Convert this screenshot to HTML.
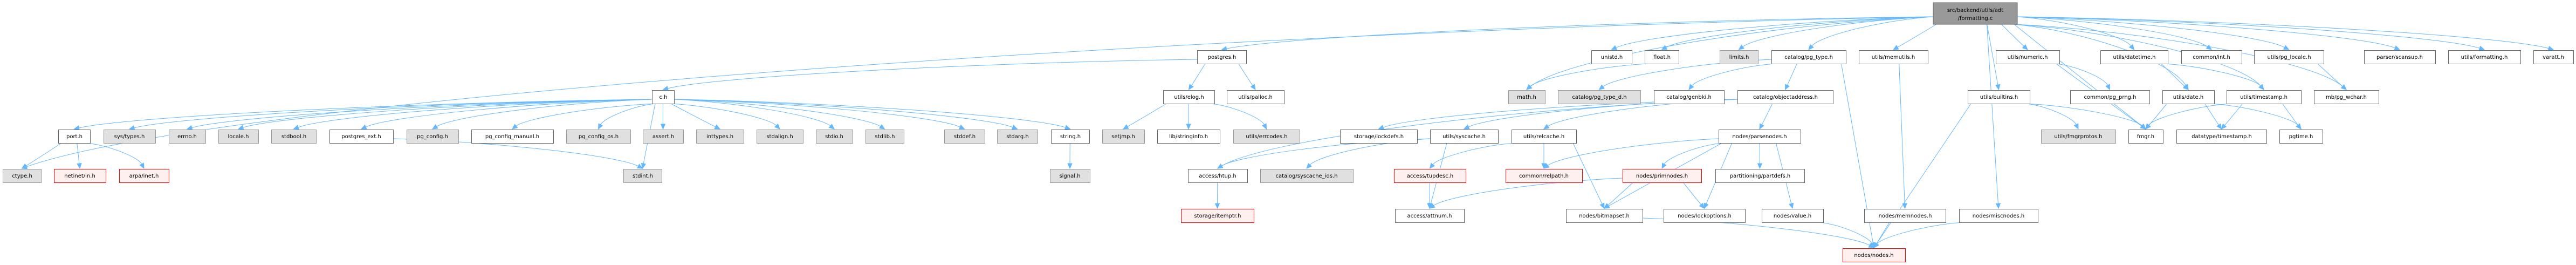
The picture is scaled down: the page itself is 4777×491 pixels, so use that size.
<!DOCTYPE html>
<html><head><meta charset="utf-8"><style>
html,body{margin:0;padding:0;background:#fff;}
svg{display:block;}
text{font-family:"DejaVu Sans","Liberation Sans",sans-serif;font-size:10px;fill:#000;}
</style></head><body>
<svg id="g" width="4777" height="491" viewBox="0 0 4777 491" xmlns="http://www.w3.org/2000/svg">
<g id="edges" fill="none" stroke="#63b8ff" stroke-width="1"></g>
<g id="heads" fill="#63b8ff" stroke="#63b8ff"></g>
<g id="nodes">
<rect x="3585" y="5" width="156" height="40" fill="#999" stroke="#666"/>
<text x="3663" y="22" text-anchor="middle">src/backend/utils/adt</text>
<text x="3663" y="37" text-anchor="middle">/formatting.c</text>
</g>
</svg>
<script>
(function(){
var R=[5,93,167,240,313,387,460];
var N={
 port:["port.h",108,167,3,"w"],systypes:["sys/types.h",192,288,3,"g"],errno:["errno.h",313,381,3,"g"],
 locale:["locale.h",405,479,3,"g"],stdbool:["stdbool.h",503,586,3,"g"],pgext:["postgres_ext.h",611,729,3,"w"],
 pgconfig:["pg_config.h",754,850,3,"g"],ctype:["ctype.h",5,76,4,"g"],netinet:["netinet/in.h",100,196,4,"r"],
 arpa:["arpa/inet.h",221,313,4,"r"],ch:["c.h",1209,1250,2,"w"],pgcm:["pg_config_manual.h",874,1026,3,"w"],
 pgcos:["pg_config_os.h",1050,1169,3,"g"],assert:["assert.h",1192,1267,3,"g"],inttypes:["inttypes.h",1291,1379,3,"g"],
 stdalign:["stdalign.h",1403,1489,3,"g"],stdio:["stdio.h",1513,1581,3,"g"],stdint:["stdint.h",1156,1227,4,"g"],
 stdlib:["stdlib.h",1605,1676,3,"g"],stddef:["stddef.h",1751,1826,3,"g"],stdarg:["stdarg.h",1849,1924,3,"g"],
 string:["string.h",1949,2020,3,"w"],signal:["signal.h",1947,2021,4,"g"],postgres:["postgres.h",2220,2311,1,"w"],
 elog:["utils/elog.h",2157,2252,2,"w"],palloc:["utils/palloc.h",2275,2381,2,"w"],setjmp:["setjmp.h",2044,2122,3,"g"],
 stringinfo:["lib/stringinfo.h",2146,2262,3,"w"],errcodes:["utils/errcodes.h",2287,2410,3,"g"],
 htup:["access/htup.h",2203,2313,4,"w"],scids:["catalog/syscache_ids.h",2337,2509,4,"g"],itemptr:["storage/itemptr.h",2190,2325,5,"r"],
 unistd:["unistd.h",2951,3026,1,"w"],float:["float.h",3050,3113,1,"w"],limits:["limits.h",3189,3260,1,"g"],
 math:["math.h",2797,2865,2,"g"],pgtyped:["catalog/pg_type_d.h",2889,3042,2,"g"],genbki:["catalog/genbki.h",3067,3197,2,"w"],
 lockdefs:["storage/lockdefs.h",2485,2628,3,"w"],syscache:["utils/syscache.h",2652,2778,3,"w"],relcache:["utils/relcache.h",2803,2923,3,"w"],
 parsenodes:["nodes/parsenodes.h",3187,3339,3,"w"],tupdesc:["access/tupdesc.h",2585,2718,4,"r"],relpath:["common/relpath.h",2792,2934,4,"r"],
 primnodes:["nodes/primnodes.h",3009,3155,4,"r"],partdefs:["partitioning/partdefs.h",3181,3346,4,"w"],attnum:["access/attnum.h",2587,2715,5,"w"],
 bitmapset:["nodes/bitmapset.h",2904,3046,5,"w"],lockopt:["nodes/lockoptions.h",3085,3236,5,"w"],
 pgtype:["catalog/pg_type.h",3285,3423,1,"w"],memutils:["utils/memutils.h",3447,3575,1,"w"],numeric:["utils/numeric.h",3701,3819,1,"w"],
 datetime:["utils/datetime.h",3895,4020,1,"w"],objaddr:["catalog/objectaddress.h",3222,3399,2,"w"],builtins:["utils/builtins.h",3649,3764,2,"w"],
 prng:["common/pg_prng.h",3839,3986,2,"w"],fmgrprotos:["utils/fmgrprotos.h",3785,3923,3,"g"],fmgr:["fmgr.h",3947,4011,3,"w"],
 value:["nodes/value.h",3267,3381,5,"w"],memnodes:["nodes/memnodes.h",3457,3608,5,"w"],miscnodes:["nodes/miscnodes.h",3633,3779,5,"w"],
 nodes:["nodes/nodes.h",3417,3533,6,"r"],int:["common/int.h",4045,4157,1,"w"],pglocale:["utils/pg_locale.h",4180,4309,1,"w"],
 scansup:["parser/scansup.h",4384,4516,1,"w"],formatting:["utils/formatting.h",4540,4674,1,"w"],varatt:["varatt.h",4698,4772,1,"w"],
 date:["utils/date.h",4010,4106,2,"w"],timestamp:["utils/timestamp.h",4129,4267,2,"w"],wchar:["mb/pg_wchar.h",4291,4411,2,"w"],
 dtts:["datatype/timestamp.h",4036,4203,3,"w"],pgtime:["pgtime.h",4227,4307,3,"w"]
};
N.root=["",3585,3741,0,"x"];
var ns="http://www.w3.org/2000/svg";
var E=[["root","postgres"],["root","ctype"],["root","unistd"],["root","float"],["root","limits"],["root","math"],["root","pgtype"],
["root","memutils"],["root","miscnodes"],["root","builtins"],["root","numeric"],["root","datetime"],["root","date"],["root","timestamp"],
["root","int"],["root","pglocale"],["root","wchar"],["root","scansup"],["root","formatting"],["root","varatt"],["root","fmgr"],
["postgres","ch"],["postgres","elog"],["postgres","palloc"],
["ch","port"],["ch","systypes"],["ch","errno"],["ch","locale"],["ch","stdbool"],["ch","pgext"],["ch","pgconfig"],["ch","pgcm"],["ch","pgcos"],
["ch","assert"],["ch","inttypes"],["ch","stdalign"],["ch","stdio"],["ch","stdlib"],["ch","stddef"],["ch","stdarg"],["ch","string"],["ch","stdint"],
["port","ctype"],["port","netinet"],["port","arpa"],["pgext","stdint"],["string","signal"],
["elog","setjmp"],["elog","stringinfo"],["elog","errcodes"],["float","math"],
["pgtype","pgtyped"],["pgtype","genbki"],["pgtype","objaddr"],["pgtype","nodes"],
["objaddr","htup"],["objaddr","lockdefs"],["objaddr","syscache"],["objaddr","relcache"],["objaddr","parsenodes"],
["syscache","htup"],["syscache","scids"],["syscache","attnum"],["htup","itemptr"],
["relcache","tupdesc"],["relcache","relpath"],["relcache","bitmapset"],["tupdesc","attnum"],
["parsenodes","relpath"],["parsenodes","bitmapset"],["parsenodes","primnodes"],["parsenodes","partdefs"],["parsenodes","lockopt"],["parsenodes","value"],
["primnodes","attnum"],["primnodes","bitmapset"],["primnodes","lockopt"],
["bitmapset","nodes"],["value","nodes"],["memnodes","nodes"],["miscnodes","nodes"],["builtins","nodes"],
["builtins","fmgrprotos"],["builtins","fmgr"],["memutils","memnodes"],["numeric","prng"],["numeric","fmgr"],
["datetime","date"],["datetime","timestamp"],["date","fmgr"],["date","dtts"],["date","pgtime"],
["timestamp","fmgr"],["timestamp","dtts"],["timestamp","pgtime"],["pglocale","wchar"]];
var eg=document.getElementById("edges"),hg=document.getElementById("heads"),ng=document.getElementById("nodes");
function ntop(n){return R[n[3]];}
function nbot(n){return R[n[3]]+(n[3]==0?40:25);}
E.forEach(function(e){
 var s=N[e[0]],t=N[e[1]];
 var tx=(t[1]+t[2])/2,ty=ntop(t);
 var scx=(s[1]+s[2])/2;
 var sx=Math.max(s[1]+6,Math.min(s[2]-6,tx*0.5+scx*0.5)),sy=nbot(s);
 var dy0=ty-sy;
 if(Math.abs(tx-scx)>dy0*6){sx=(tx<scx)?s[1]:s[2];sy=nbot(s)-(s[3]==0?14:8);}
 var dy=ty-sy;
 var c1x=sx+(tx-sx)*0.4,c1y=sy+dy*0.1,c2x=tx+(sx-tx)*0.1,c2y=ty-dy*0.45;
 if(Math.abs(tx-sx)<dy*2){c1x=sx+(tx-sx)*0.33;c2x=sx+(tx-sx)*0.67;c1y=sy+dy*0.33;c2y=sy+dy*0.67;}
 var ex=tx,ey=ty-1;
 var ang=Math.atan2(ey-c2y,ex-c2x);
 var L=9,bx=ex-L*Math.cos(ang),by=ey-L*Math.sin(ang);
 var p=document.createElementNS(ns,"path");
 p.setAttribute("d","M"+sx+","+sy+" C"+c1x+","+c1y+" "+c2x+","+c2y+" "+bx+","+by);
 eg.appendChild(p);
 var w=4,px=-Math.sin(ang)*w,py=Math.cos(ang)*w;
 var h=document.createElementNS(ns,"polygon");
 h.setAttribute("points",ex+","+ey+" "+(bx+px)+","+(by+py)+" "+(bx-px)+","+(by-py));
 hg.appendChild(h);
});
var st={w:["#fff","#666"],g:["#e0e0e0","#999"],r:["#fff0f0","#f00"]};
for(var k in N){var n=N[k];if(n[4]=="x")continue;
 var r=document.createElementNS(ns,"rect");
 r.setAttribute("x",n[1]+0.5);r.setAttribute("y",R[n[3]]+0.5);r.setAttribute("width",n[2]-n[1]);r.setAttribute("height",25);
 r.setAttribute("fill",st[n[4]][0]);r.setAttribute("stroke",st[n[4]][1]);ng.appendChild(r);
}
})();
</script>
<svg width="4777" height="491" style="position:absolute;left:0;top:0" xmlns="http://www.w3.org/2000/svg">
<g text-anchor="middle" font-family="DejaVu Sans, Liberation Sans, sans-serif" font-size="10">
<text x="138" y="256">port.h</text><text x="240" y="256">sys/types.h</text><text x="347" y="256">errno.h</text>
<text x="442" y="256">locale.h</text><text x="545" y="256">stdbool.h</text><text x="670" y="256">postgres_ext.h</text>
<text x="802" y="256">pg_config.h</text><text x="41" y="329">ctype.h</text><text x="148" y="329">netinet/in.h</text>
<text x="267" y="329">arpa/inet.h</text><text x="1230" y="183">c.h</text><text x="950" y="256">pg_config_manual.h</text>
<text x="1110" y="256">pg_config_os.h</text><text x="1230" y="256">assert.h</text><text x="1335" y="256">inttypes.h</text>
<text x="1446" y="256">stdalign.h</text><text x="1547" y="256">stdio.h</text><text x="1192" y="329">stdint.h</text>
<text x="1641" y="256">stdlib.h</text><text x="1789" y="256">stddef.h</text><text x="1887" y="256">stdarg.h</text>
<text x="1985" y="256">string.h</text><text x="1984" y="329">signal.h</text><text x="2266" y="109">postgres.h</text>
<text x="2205" y="183">utils/elog.h</text><text x="2328" y="183">utils/palloc.h</text><text x="2083" y="256">setjmp.h</text>
<text x="2204" y="256">lib/stringinfo.h</text><text x="2349" y="256">utils/errcodes.h</text><text x="2258" y="329">access/htup.h</text>
<text x="2423" y="329">catalog/syscache_ids.h</text><text x="2258" y="403">storage/itemptr.h</text>
<text x="2989" y="109">unistd.h</text><text x="3082" y="109">float.h</text><text x="3225" y="109">limits.h</text>
<text x="2831" y="183">math.h</text><text x="2966" y="183">catalog/pg_type_d.h</text><text x="3132" y="183">catalog/genbki.h</text>
<text x="2557" y="256">storage/lockdefs.h</text><text x="2715" y="256">utils/syscache.h</text><text x="2863" y="256">utils/relcache.h</text>
<text x="3263" y="256">nodes/parsenodes.h</text><text x="2652" y="329">access/tupdesc.h</text><text x="2863" y="329">common/relpath.h</text>
<text x="3082" y="329">nodes/primnodes.h</text><text x="3264" y="329">partitioning/partdefs.h</text><text x="2651" y="403">access/attnum.h</text>
<text x="2975" y="403">nodes/bitmapset.h</text><text x="3161" y="403">nodes/lockoptions.h</text>
<text x="3354" y="109">catalog/pg_type.h</text><text x="3511" y="109">utils/memutils.h</text><text x="3760" y="109">utils/numeric.h</text>
<text x="3958" y="109">utils/datetime.h</text><text x="3311" y="183">catalog/objectaddress.h</text><text x="3707" y="183">utils/builtins.h</text>
<text x="3913" y="183">common/pg_prng.h</text><text x="3854" y="256">utils/fmgrprotos.h</text><text x="3979" y="256">fmgr.h</text>
<text x="3324" y="403">nodes/value.h</text><text x="3533" y="403">nodes/memnodes.h</text><text x="3706" y="403">nodes/miscnodes.h</text>
<text x="3475" y="476">nodes/nodes.h</text><text x="4101" y="109">common/int.h</text><text x="4245" y="109">utils/pg_locale.h</text>
<text x="4450" y="109">parser/scansup.h</text><text x="4607" y="109">utils/formatting.h</text><text x="4735" y="109">varatt.h</text>
<text x="4058" y="183">utils/date.h</text><text x="4198" y="183">utils/timestamp.h</text><text x="4351" y="183">mb/pg_wchar.h</text>
<text x="4120" y="256">datatype/timestamp.h</text><text x="4267" y="256">pgtime.h</text>
</g>
</svg>
</body></html>
